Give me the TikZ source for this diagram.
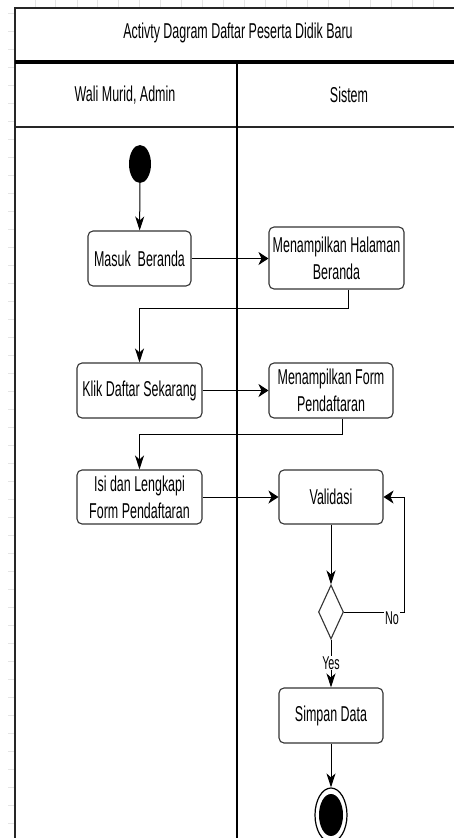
\documentclass[tikz,border=0pt]{standalone}
\usepackage{fontspec}
\setmainfont[FakeStretch=0.58]{Liberation Sans}
\usetikzlibrary{shapes.geometric,arrows.meta}
\tikzset{
  act/.style={draw=black!80, line width=1.1pt, rounded corners=5pt, fill=white, align=center, inner sep=0pt,
    font=\fontsize{21.5}{27}\selectfont},
  conn/.style={draw=black, line width=1pt},
  harr/.style={-{Stealth[length=10pt,width=13pt,inset=3pt]}},
  varr/.style={-{Stealth[length=14pt,width=9pt,inset=4pt]}},
  lbl/.style={font=\fontsize{18.5}{22}\selectfont, fill=white, inner sep=1pt},
  hdr/.style={font=\fontsize{21.5}{27}\selectfont, inner sep=0pt},
}
\begin{document}
\begin{tikzpicture}[x=1pt,y=-1pt]
\useasboundingbox (0,0) rectangle (454,838);
\clip (0,0) rectangle (454,838);
\fill[white] (0,0) rectangle (454,838);
% faint background grid in the margins
\foreach \yy in {13,31,49,67,85,103,121,139,157,175,193,211,229,247,265,283,301,319,337,355,373,391,409,427,445,463,481,499,517,535,553,571,589,607,625,643,661,679,697,715,733,751,769,787,805,823}
  \draw[black!10, line width=0.6pt] (8,\yy) -- (15,\yy);
\foreach \xx in {35,55,77,97,118,139,160,181,202,223,244,265,286,307,328,349,370,391,412,433}
  \draw[black!10, line width=0.6pt] (\xx,0) -- (\xx,8);
% swimlane table
\draw[black!85, line width=1.6pt] (15,838) -- (15,8) -- (460,8);
\draw[black, line width=4pt] (15,62) -- (460,62);
\draw[black!85, line width=1.8pt] (15,127) -- (460,127);
\draw[black, line width=1.2pt] (237,62) -- (237,838);
\node[hdr] (title) at (238,33) {Activty Dagram Daftar Peserta Didik Baru};
\node[hdr] (lane1) at (125,95) {Wali Murid, Admin};
\node[hdr] (lane2) at (349,95) {Sistem};
% nodes
\node[ellipse, fill=black, minimum width=22pt, minimum height=38pt, inner sep=0pt] (start) at (140,164) {};
\node[act, minimum width=103pt, minimum height=55pt] (masuk) at (139.5,258.5) {Masuk\ \ Beranda};
\node[act, minimum width=135pt, minimum height=62pt] (menhal) at (336.5,258) {Menampilkan Halaman\\Beranda};
\node[act, minimum width=125pt, minimum height=55pt] (klik) at (139.5,390.5) {Klik Daftar Sekarang};
\node[act, minimum width=124pt, minimum height=55pt] (menform) at (331,390.5) {Menampilkan Form\\Pendaftaran};
\node[act, minimum width=125pt, minimum height=54pt] (isi) at (139.5,497) {Isi dan Lengkapi\\Form Pendaftaran};
\node[act, minimum width=104pt, minimum height=54pt] (valid) at (331,497) {Validasi};
\node[diamond, draw=black!80, line width=1.1pt, fill=white, minimum width=25pt, minimum height=54pt, inner sep=0pt] (dec) at (331,612) {};
\node[act, minimum width=104pt, minimum height=55pt] (simpan) at (331,715.5) {Simpan Data};
\node[ellipse, draw=black, line width=1.2pt, fill=white, minimum width=32pt, minimum height=54pt, inner sep=0pt] (end) at (331,815) {};
\node[ellipse, fill=black, minimum width=24pt, minimum height=42pt, inner sep=0pt] (endin) at (331,815) {};
% connectors
\coordinate (c1) at (348,308);
\coordinate (c2) at (342,434);
\coordinate (c3) at (404,612);
\draw[conn,varr] (start) -- (masuk);
\draw[conn,harr] (masuk) -- (menhal.west |- masuk);
\draw[conn,varr] (c1 |- menhal.south) -- (c1) -- (c1 -| klik) -- (klik.north);
\draw[conn,harr] (klik) -- (menform);
\draw[conn,varr] (c2 |- menform.south) -- (c2) -- (c2 -| isi) -- (isi.north);
\draw[conn,harr] (isi) -- (valid);
\draw[conn,varr] (valid) -- (dec);
\draw[conn,harr] (dec.east) -- (c3) -- (c3 |- valid) -- (valid.east);
\node[lbl] (no) at (392,618) {No};
\draw[conn,varr] (dec.south) -- (simpan.north);
\node[lbl] (yes) at (331,663) {Yes};
\draw[conn,varr] (simpan) -- (end);
\end{tikzpicture}
\end{document}
